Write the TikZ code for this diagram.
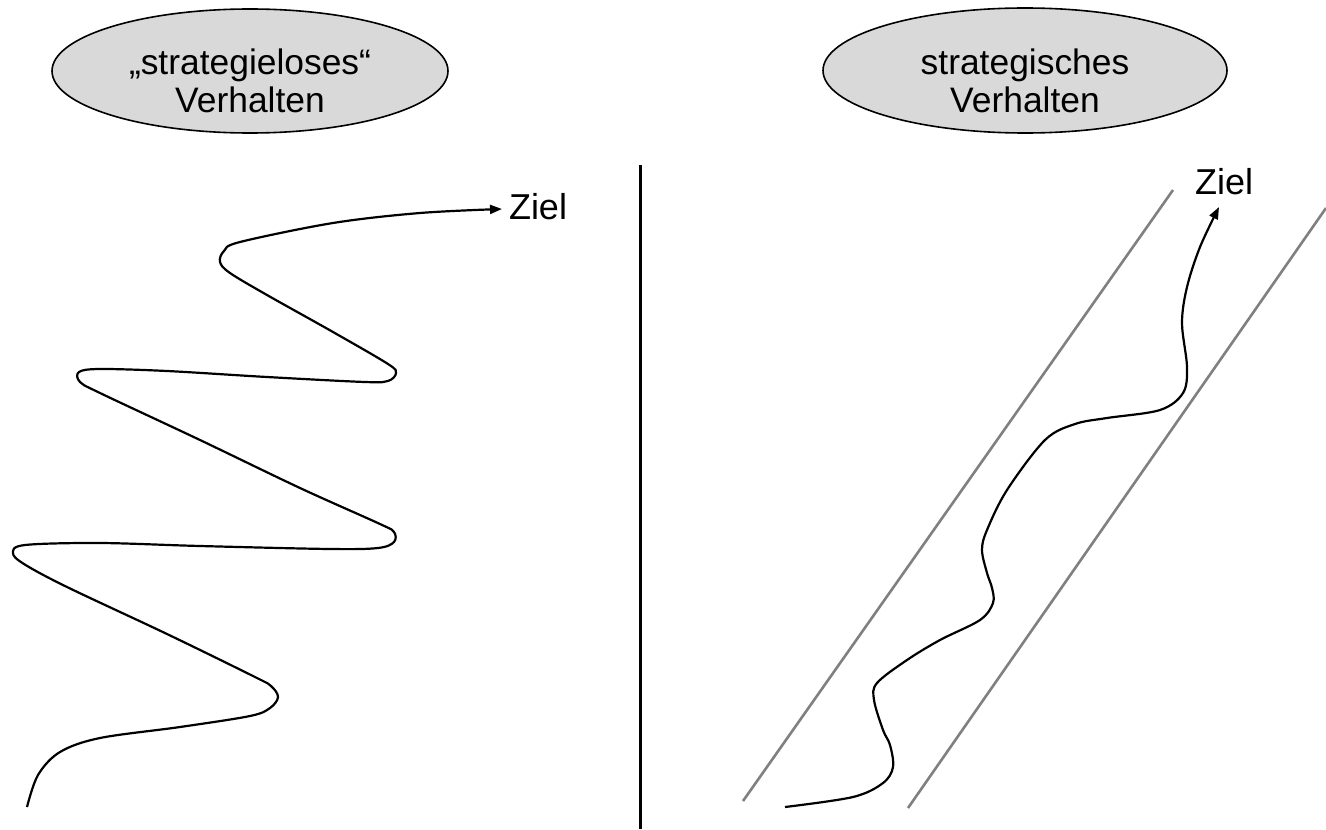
\documentclass[tikz,border=0pt]{standalone}
\usepackage{fontspec}
\setmainfont{Liberation Sans}
\usetikzlibrary{shapes.geometric,arrows.meta}
\definecolor{bubblefill}{RGB}{217,217,217}
\definecolor{railgray}{RGB}{128,128,128}
\begin{document}
\begin{tikzpicture}[x=0.5pt,y=-0.5pt,
  bubble/.style={ellipse,draw=black,line width=0.8pt,fill=bubblefill,inner sep=0pt},
  bubbletext/.style={align=center,font=\fontsize{17.7}{19}\selectfont,inner sep=0pt},
  goaltext/.style={font=\fontsize{18}{20}\selectfont,inner sep=0pt},
  path/.style={line width=1.1pt,black,-{Triangle[length=6pt,width=4.5pt]}},
  rail/.style={line width=1.3pt,railgray},
  divider/.style={line width=1.5pt,black}]
\useasboundingbox (0,0) rectangle (1326,829);

% headings
\node[bubble,minimum width=198pt,minimum height=62pt] (e1) at (250,71) {};
\node[bubbletext] (t1) at (250,81) {„strategieloses“\\Verhalten};
\node[bubble,minimum width=202pt,minimum height=62.5pt] (e2) at (1025,70.5) {};
\node[bubbletext] (t2) at (1025,81) {strategisches\\Verhalten};

% separating line
\coordinate (dtop) at (640,165);
\coordinate (dbot) at (640,829);
\draw[divider] (dtop) -- (dbot);

% goal labels
\node[goaltext] (z1) at (538,207) {Ziel};
\node[goaltext] (z2) at (1224,182) {Ziel};

% left: wandering path
\coordinate (sL) at (27,807);
\coordinate (tL) at (502,209);
\draw[path] plot[smooth,tension=0.55] coordinates {
  (sL) (38,775) (60,752) (100,738) (180,727) (250,716) (270,708) (278,697)
  (271,686) (255,677) (167,634) (67,587) (24,564) (13,553) (25,545) (100,543)
  (200,546) (330,549) (378,548) (394,542) (394,532) (380,524) (300,488) (200,440)
  (100,393) (80,382) (79,372) (100,369) (167,371) (267,377) (365,382)
  (388,381) (396,373) (388,364) (333,332) (267,295) (230,273) (220,262)
  (224,251) (240,242) (333,223) (420,213) (tL)};

% right: corridor
\coordinate (r1a) at (743,801);
\coordinate (r1b) at (1173,190);
\coordinate (r2a) at (908,808);
\coordinate (r2b) at (1326,208);
\draw[rail] (r1a) -- (r1b);
\draw[rail] (r2a) -- (r2b);

% right: guided path
\coordinate (sR) at (785,807);
\coordinate (tR) at (1219,207);
\draw[path] plot[smooth,tension=0.55] coordinates {
  (sR) (853,797) (883,783) (893,767) (890,745) (883,730) (874,700) (877,683)
  (907,660) (940,640) (980,620) (993,603) (992,588) (987,573) (982,550)
  (987,530) (1007,490) (1045,440) (1075,424) (1107,418) (1160,410)
  (1183,393) (1187,367) (1182,323) (1187,287) (1200,247) (tR)};
\end{tikzpicture}
\end{document}
